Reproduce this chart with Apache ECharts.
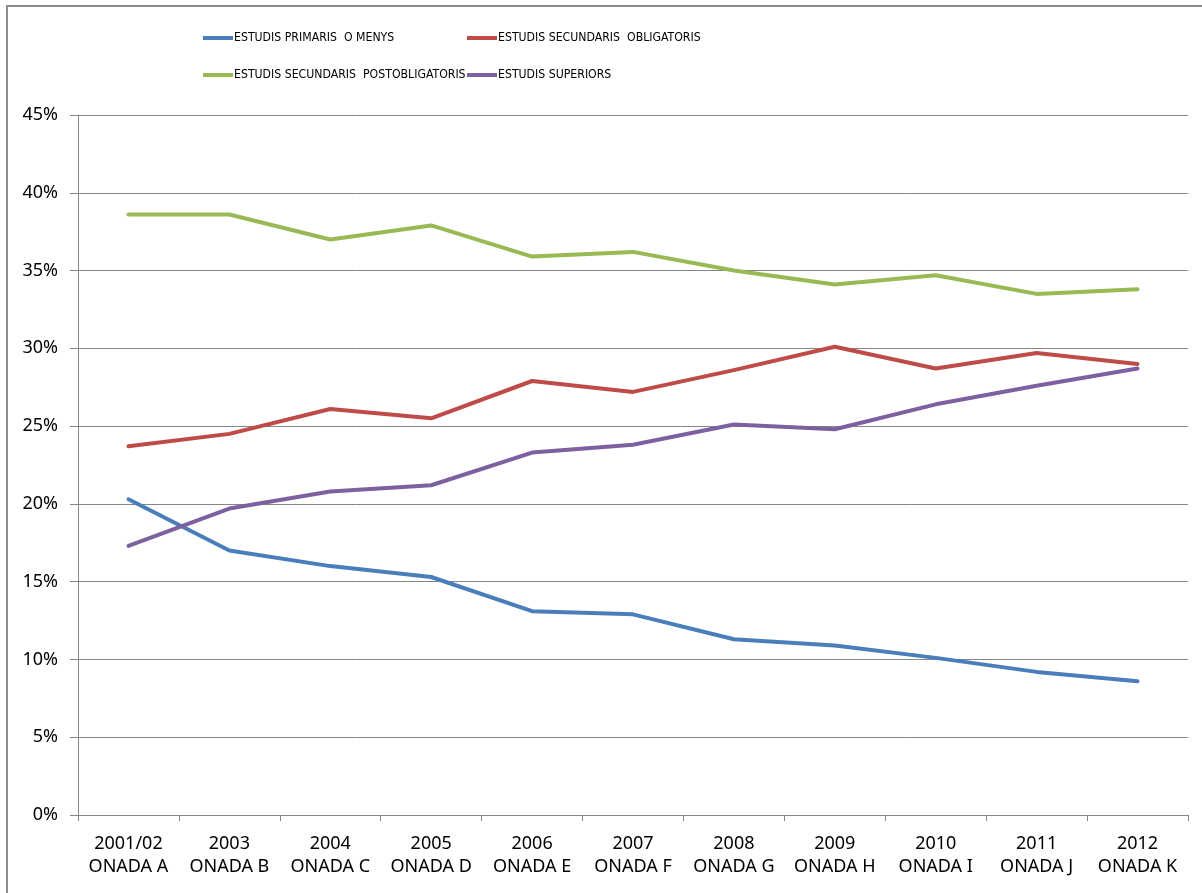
<!DOCTYPE html>
<html>
<head>
<meta charset="utf-8">
<script src="https://cdn.jsdelivr.net/npm/echarts@6/dist/echarts.min.js"></script>
<style>
  html, body { margin: 0; padding: 0; background: #fff; }
  #chart { width: 1202px; height: 893px; }
</style>
</head>
<body>
<div id="chart"></div>
<script>
const categories = [
  '2001/02\nONADA A', '2003\nONADA B', '2004\nONADA C', '2005\nONADA D',
  '2006\nONADA E', '2007\nONADA F', '2008\nONADA G', '2009\nONADA H',
  '2010\nONADA I', '2011\nONADA J', '2012\nONADA K'
];
const seriesNames = [
  'ESTUDIS PRIMARIS  O MENYS',
  'ESTUDIS SECUNDARIS  OBLIGATORIS',
  'ESTUDIS SECUNDARIS  POSTOBLIGATORIS',
  'ESTUDIS SUPERIORS'
];
const primaris = [20.3, 17.0, 16.0, 15.3, 13.1, 12.9, 11.3, 10.9, 10.1, 9.2, 8.6];
const secObligatoris = [23.7, 24.5, 26.1, 25.5, 27.9, 27.2, 28.6, 30.1, 28.7, 29.7, 29.0];
const secPostobligatoris = [38.6, 38.6, 37.0, 37.9, 35.9, 36.2, 35.0, 34.1, 34.7, 33.5, 33.8];
const superiors = [17.3, 19.7, 20.8, 21.2, 23.3, 23.8, 25.1, 24.8, 26.4, 27.6, 28.7];
const colors = ['#4a7ebb', '#be4b48', '#98b954', '#7d60a0'];

const font = '"Noto Sans", sans-serif';
const chart = echarts.init(document.getElementById('chart'));

// one legend per item so the two columns line up like the original
const legendPos = [[203, 32], [467, 32], [203, 69], [467, 69]];
const legends = seriesNames.map((name, i) => ({
  data: [name],
  left: legendPos[i][0],
  top: legendPos[i][1],
  itemWidth: 30,
  itemHeight: 4,
  itemGap: 0,
  padding: 0,
  icon: 'rect',
  textStyle: {
    fontFamily: '"DejaVu Sans Condensed", "Noto Sans", sans-serif',
    fontSize: 12.2,
    color: '#000',
    padding: [0, 0, 0, -4]
  }
}));

const dataSets = [primaris, secObligatoris, secPostobligatoris, superiors];

chart.setOption({
  animation: false,
  color: colors,
  legend: legends,
  graphic: [{
    type: 'rect',
    shape: { x: 7, y: 6, width: 1210, height: 900 },
    style: { fill: 'none', stroke: '#8c8c8c', lineWidth: 2 },
    silent: true
  }],
  grid: { left: 78, right: 14, top: 115, bottom: 78 },
  xAxis: {
    type: 'category',
    data: categories,
    boundaryGap: true,
    axisLine: { lineStyle: { color: '#868686', width: 1 } },
    axisTick: { show: true, length: 6, lineStyle: { color: '#868686' } },
    axisLabel: { fontFamily: font, fontSize: 18, color: '#000', lineHeight: 23, margin: 17, interval: 0 }
  },
  yAxis: {
    type: 'value',
    min: 0,
    max: 45,
    interval: 5,
    axisLine: { show: true, lineStyle: { color: '#868686', width: 1 } },
    axisTick: { show: true, inside: false, length: 8, lineStyle: { color: '#868686' } },
    axisLabel: { fontFamily: font, fontSize: 18, color: '#000', margin: 20, formatter: '{value}%' },
    splitLine: { lineStyle: { color: '#868686', width: 1 } }
  },
  series: dataSets.map((d, i) => ({
    name: seriesNames[i],
    type: 'line',
    data: d,
    symbol: 'none',
    lineStyle: { width: 4, color: colors[i], cap: 'round', join: 'round' },
    itemStyle: { color: colors[i] }
  }))
});
</script>
</body>
</html>
